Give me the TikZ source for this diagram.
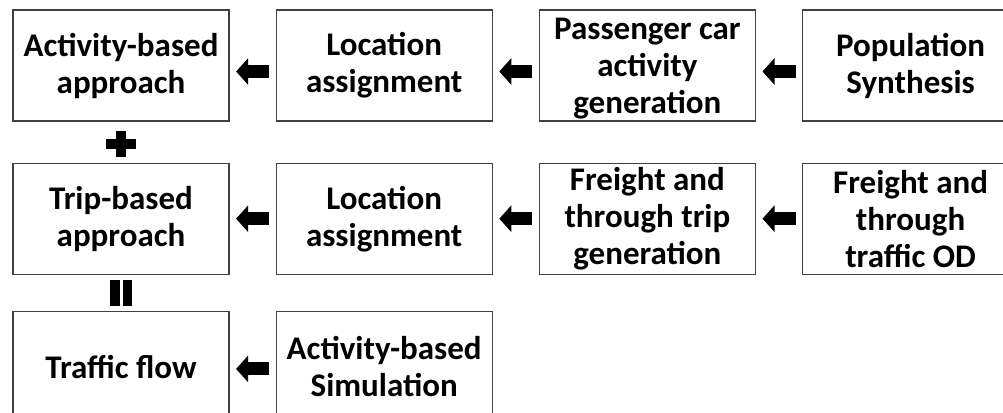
\documentclass[tikz,border=0pt]{standalone}
\usepackage{fontspec}
\setmainfont{Carlito}
\usetikzlibrary{positioning,calc,arrows.meta}
\begin{document}
\begin{tikzpicture}[x=1pt, y=1pt, node distance=46pt,
  stage/.style={rectangle, draw=black!75, line width=1.2pt, minimum width=216pt, minimum height=111pt, inner sep=0pt, align=center, font=\fontsize{33}{37}\selectfont\bfseries},
  flow/.style={line width=13pt, shorten >=6.5pt, shorten <=6.5pt, -{Triangle[length=12pt, width=26pt]}},
  sign/.style={line width=9.5pt}]
  \useasboundingbox (0,0) rectangle (1003,-412);
  \clip (0,0) rectangle (1003,-412);

  \node[stage] (act) at (121,-65.5) {Activity-based\\approach};
  \node[stage] (locA) [right=of act] {Location\\assignment};
  \node[stage, text depth=-10pt] (pcar) [right=of locA] {Passenger car\\activity\\generation};
  \node[stage] (pop) [right=of pcar] {Population\\Synthesis};

  \node[stage] (trip) [below=41pt of act] {Trip-based\\approach};
  \node[stage] (locB) [right=of trip] {Location\\assignment};
  \node[stage] (frgen) [right=of locB] {Freight and\\through trip\\generation};
  \node[stage] (frod) [right=of frgen] {Freight and\\through\\traffic OD};

  \node[stage] (tflow) [below=36pt of trip] {Traffic flow};
  \node[stage] (sim) [right=of tflow] {Activity-based\\Simulation};

  \draw[flow] ([yshift=-6pt]locA.west) -- ([yshift=-6pt]act.east);
  \draw[flow] ([yshift=-6pt]pcar.west) -- ([yshift=-6pt]locA.east);
  \draw[flow] ([yshift=-6pt]pop.west) -- ([yshift=-6pt]pcar.east);
  \draw[flow] (locB) -- (trip);
  \draw[flow] (frgen) -- (locB);
  \draw[flow] (frod) -- (frgen);
  \draw[flow] ([yshift=-2pt]sim.west) -- ([yshift=-2pt]tflow.east);

  \coordinate (plusAt) at ($(act.south)!0.5!(trip.north)+(0,-2)$);
  \draw[sign] (plusAt) +(-15,0) -- +(15,0) (plusAt) +(0,-13) -- +(0,13);
  \coordinate (eqAt) at ($(trip.south)!0.5!(tflow.north)$);
  \draw[sign] (eqAt) +(-6.25,-13) -- +(-6.25,13) (eqAt) +(6.25,-13) -- +(6.25,13);
\end{tikzpicture}
\end{document}
